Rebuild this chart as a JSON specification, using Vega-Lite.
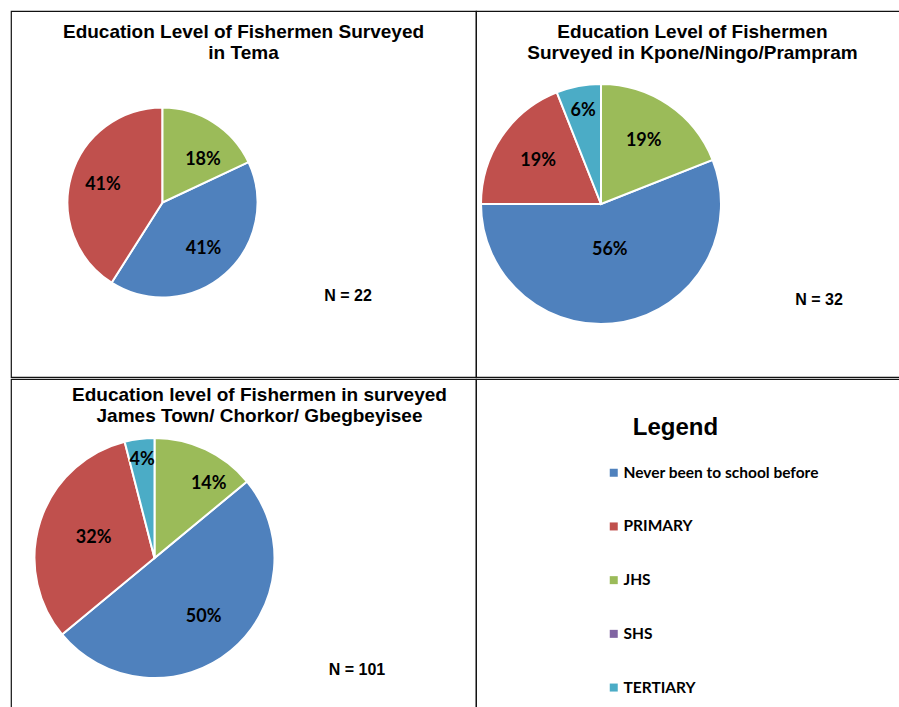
{
  "$schema": "https://vega.github.io/schema/vega-lite/v6.json",
  "background": "white",
  "padding": {"left": 10, "top": 10, "right": 0, "bottom": 0},
  "config": {
    "view": {"stroke": "#111111", "strokeWidth": 1.2},
    "concat": {"spacing": 0},
    "title": {"font": "Liberation Sans", "fontWeight": "bold", "fontSize": 19, "color": "black", "anchor": "middle", "baseline": "top", "lineHeight": 21}
  },
  "datasets": {
    "edu": [
      {"site": "Tema", "level": "Never been to school before", "share": 0.41},
      {"site": "Tema", "level": "PRIMARY", "share": 0.41},
      {"site": "Tema", "level": "JHS", "share": 0.18},
      {"site": "Kpone", "level": "Never been to school before", "share": 0.56},
      {"site": "Kpone", "level": "PRIMARY", "share": 0.19},
      {"site": "Kpone", "level": "JHS", "share": 0.19},
      {"site": "Kpone", "level": "TERTIARY", "share": 0.06},
      {"site": "James", "level": "Never been to school before", "share": 0.50},
      {"site": "James", "level": "PRIMARY", "share": 0.32},
      {"site": "James", "level": "JHS", "share": 0.14},
      {"site": "James", "level": "TERTIARY", "share": 0.04}
    ],
    "ns": [
      {"site": "Tema", "label": "N = 22"},
      {"site": "Kpone", "label": "N = 32"},
      {"site": "James", "label": "N = 101"}
    ]
  },
  "resolve": {"legend": {"color": "independent"}},
  "vconcat": [
    {
      "bounds": "flush",
      "resolve": {"legend": {"color": "independent"}},
      "hconcat": [
        {
          "width": 465, "height": 366,
          "view": {"stroke": "#111111", "strokeWidth": 1.2},
          "title": {"text": ["Education Level of Fishermen Surveyed", "in Tema"], "offset": -52},
          "layer": [
            {
              "data": {"name": "edu"},
              "transform": [{"filter": "datum.site == 'Tema'"}],
              "mark": {"type": "arc", "x": 151.5, "y": 191.5, "outerRadius": 95, "stroke": "white", "strokeWidth": 2},
              "encoding": {
                "theta": {"field": "share", "type": "quantitative", "stack": true},
                "order": {"field": "level", "type": "ordinal", "sort": "ascending"},
                "color": {"field": "level", "type": "nominal", "legend": null,
                  "scale": {"domain": ["Never been to school before", "PRIMARY", "JHS", "SHS", "TERTIARY"], "range": ["#4F81BD", "#C0504D", "#9BBB59", "#8064A2", "#4BACC6"]}}
              }
            },
            {
              "data": {"name": "edu"},
              "transform": [{"filter": "datum.site == 'Tema'"}],
              "mark": {"type": "text", "x": 151.5, "y": 191.5, "radius": 62, "font": "Lato", "fontWeight": "bold", "fontSize": 18, "color": "black"},
              "encoding": {
                "theta": {"field": "share", "type": "quantitative", "stack": true},
                "order": {"field": "level", "type": "ordinal", "sort": "ascending"},
                "text": {"field": "share", "type": "quantitative", "format": ".0%"},
                "opacity": {"condition": {"test": "datum.level == 'JHS'", "value": 0}, "value": 1}
              }
            },
            {
              "data": {"name": "edu"},
              "transform": [{"filter": "datum.site == 'Tema'"}],
              "mark": {"type": "text", "x": 151.5, "y": 191.5, "radius": 59, "thetaOffset": 0.19, "font": "Lato", "fontWeight": "bold", "fontSize": 18, "color": "black"},
              "encoding": {
                "theta": {"field": "share", "type": "quantitative", "stack": true},
                "order": {"field": "level", "type": "ordinal", "sort": "ascending"},
                "text": {"field": "share", "type": "quantitative", "format": ".0%"},
                "opacity": {"condition": {"test": "datum.level == 'JHS'", "value": 1}, "value": 0}
              }
            },
            {
              "data": {"name": "ns"},
              "transform": [{"filter": "datum.site == 'Tema'"}],
              "mark": {"type": "text", "x": 337, "y": 285, "font": "Liberation Sans", "fontWeight": "bold", "fontSize": 16, "color": "black"},
              "encoding": {"text": {"field": "label"}}
            }
          ]
        },
        {
          "width": 433, "height": 366,
          "view": {"stroke": "#111111", "strokeWidth": 1.2},
          "title": {"text": ["Education Level of Fishermen", "Surveyed in Kpone/Ningo/Prampram"], "offset": -52},
          "layer": [
            {
              "data": {"name": "edu"},
              "transform": [{"filter": "datum.site == 'Kpone'"}],
              "mark": {"type": "arc", "x": 125, "y": 193, "outerRadius": 120, "stroke": "white", "strokeWidth": 2},
              "encoding": {
                "theta": {"field": "share", "type": "quantitative", "stack": true},
                "order": {"field": "level", "type": "ordinal", "sort": "ascending"},
                "color": {"field": "level", "type": "nominal", "legend": null}
              }
            },
            {
              "data": {"name": "edu"},
              "transform": [{"filter": "datum.site == 'Kpone'"}],
              "mark": {"type": "text", "x": 125, "y": 193, "radius": 76, "font": "Lato", "fontWeight": "bold", "fontSize": 18, "color": "black"},
              "encoding": {
                "theta": {"field": "share", "type": "quantitative", "stack": true},
                "order": {"field": "level", "type": "ordinal", "sort": "ascending"},
                "text": {"field": "share", "type": "quantitative", "format": ".0%"},
                "opacity": {"condition": {"test": "datum.level == 'JHS' || datum.level == 'PRIMARY'", "value": 1}, "value": 0}
              }
            },
            {
              "data": {"name": "edu"},
              "transform": [{"filter": "datum.site == 'Kpone'"}],
              "mark": {"type": "text", "x": 125, "y": 193, "radius": 47, "font": "Lato", "fontWeight": "bold", "fontSize": 18, "color": "black"},
              "encoding": {
                "theta": {"field": "share", "type": "quantitative", "stack": true},
                "order": {"field": "level", "type": "ordinal", "sort": "ascending"},
                "text": {"field": "share", "type": "quantitative", "format": ".0%"},
                "opacity": {"condition": {"test": "datum.level == 'Never been to school before'", "value": 1}, "value": 0}
              }
            },
            {
              "data": {"name": "edu"},
              "transform": [{"filter": "datum.site == 'Kpone'"}],
              "mark": {"type": "text", "x": 125, "y": 193, "radius": 95, "font": "Lato", "fontWeight": "bold", "fontSize": 18, "color": "black"},
              "encoding": {
                "theta": {"field": "share", "type": "quantitative", "stack": true},
                "order": {"field": "level", "type": "ordinal", "sort": "ascending"},
                "text": {"field": "share", "type": "quantitative", "format": ".0%"},
                "opacity": {"condition": {"test": "datum.level == 'TERTIARY'", "value": 1}, "value": 0}
              }
            },
            {
              "data": {"name": "ns"},
              "transform": [{"filter": "datum.site == 'Kpone'"}],
              "mark": {"type": "text", "x": 343, "y": 289, "font": "Liberation Sans", "fontWeight": "bold", "fontSize": 16, "color": "black"},
              "encoding": {"text": {"field": "label"}}
            }
          ]
        }
      ]
    },
    {
      "bounds": "flush",
      "resolve": {"legend": {"color": "independent"}},
      "hconcat": [
        {
          "width": 465, "height": 340,
          "view": {"stroke": "#111111", "strokeWidth": 1.2},
          "title": {"text": ["Education level of Fishermen in surveyed", "James Town/ Chorkor/ Gbegbeyisee"], "offset": -47, "dx": 16},
          "layer": [
            {
              "data": {"name": "edu"},
              "transform": [{"filter": "datum.site == 'James'"}],
              "mark": {"type": "arc", "x": 143.5, "y": 179, "outerRadius": 120, "stroke": "white", "strokeWidth": 2},
              "encoding": {
                "theta": {"field": "share", "type": "quantitative", "stack": true},
                "order": {"field": "level", "type": "ordinal", "sort": "ascending"},
                "color": {"field": "level", "type": "nominal", "legend": null}
              }
            },
            {
              "data": {"name": "edu"},
              "transform": [{"filter": "datum.site == 'James'"}],
              "mark": {"type": "text", "x": 143.5, "y": 179, "radius": 92, "thetaOffset": 0.19, "font": "Lato", "fontWeight": "bold", "fontSize": 18, "color": "black"},
              "encoding": {
                "theta": {"field": "share", "type": "quantitative", "stack": true},
                "order": {"field": "level", "type": "ordinal", "sort": "ascending"},
                "text": {"field": "share", "type": "quantitative", "format": ".0%"},
                "opacity": {"condition": {"test": "datum.level == 'JHS'", "value": 1}, "value": 0}
              }
            },
            {
              "data": {"name": "edu"},
              "transform": [{"filter": "datum.site == 'James'"}],
              "mark": {"type": "text", "x": 143.5, "y": 179, "radius": 99, "font": "Lato", "fontWeight": "bold", "fontSize": 18, "color": "black"},
              "encoding": {
                "theta": {"field": "share", "type": "quantitative", "stack": true},
                "order": {"field": "level", "type": "ordinal", "sort": "ascending"},
                "text": {"field": "share", "type": "quantitative", "format": ".0%"},
                "opacity": {"condition": {"test": "datum.level == 'TERTIARY'", "value": 1}, "value": 0}
              }
            },
            {
              "data": {"name": "edu"},
              "transform": [{"filter": "datum.site == 'James'"}],
              "mark": {"type": "text", "x": 143.5, "y": 179, "radius": 77, "font": "Lato", "fontWeight": "bold", "fontSize": 18, "color": "black"},
              "encoding": {
                "theta": {"field": "share", "type": "quantitative", "stack": true},
                "order": {"field": "level", "type": "ordinal", "sort": "ascending"},
                "text": {"field": "share", "type": "quantitative", "format": ".0%"},
                "opacity": {"condition": {"test": "datum.level == 'Never been to school before'", "value": 1}, "value": 0}
              }
            },
            {
              "data": {"name": "edu"},
              "transform": [{"filter": "datum.site == 'James'"}],
              "mark": {"type": "text", "x": 143.5, "y": 179, "radius": 64, "font": "Lato", "fontWeight": "bold", "fontSize": 18, "color": "black"},
              "encoding": {
                "theta": {"field": "share", "type": "quantitative", "stack": true},
                "order": {"field": "level", "type": "ordinal", "sort": "ascending"},
                "text": {"field": "share", "type": "quantitative", "format": ".0%"},
                "opacity": {"condition": {"test": "datum.level == 'PRIMARY'", "value": 1}, "value": 0}
              }
            },
            {
              "data": {"name": "ns"},
              "transform": [{"filter": "datum.site == 'James'"}],
              "mark": {"type": "text", "x": 346, "y": 291, "font": "Liberation Sans", "fontWeight": "bold", "fontSize": 16, "color": "black"},
              "encoding": {"text": {"field": "label"}}
            }
          ]
        },
        {
          "width": 433, "height": 340,
          "view": {"stroke": "#111111", "strokeWidth": 1.2},
          "title": {"text": "Legend", "fontSize": 24, "offset": -61, "dx": -17},
          "data": {"name": "edu"},
          "mark": {"type": "arc", "radius": 0, "strokeWidth": 0},
          "encoding": {
            "color": {"field": "level", "type": "nominal",
              "legend": {"title": null, "orient": "none", "legendX": 130, "legendY": 86, "padding": 0,
                "symbolType": "square", "symbolSize": 64, "symbolStrokeWidth": 0, "symbolOpacity": 1,
                "labelFont": "Lato", "labelFontWeight": "bold", "labelFontSize": 15.5, "labelColor": "black",
                "labelOffset": 2, "rowPadding": 36.7, "labelLimit": 400}}
          }
        }
      ]
    }
  ]
}
